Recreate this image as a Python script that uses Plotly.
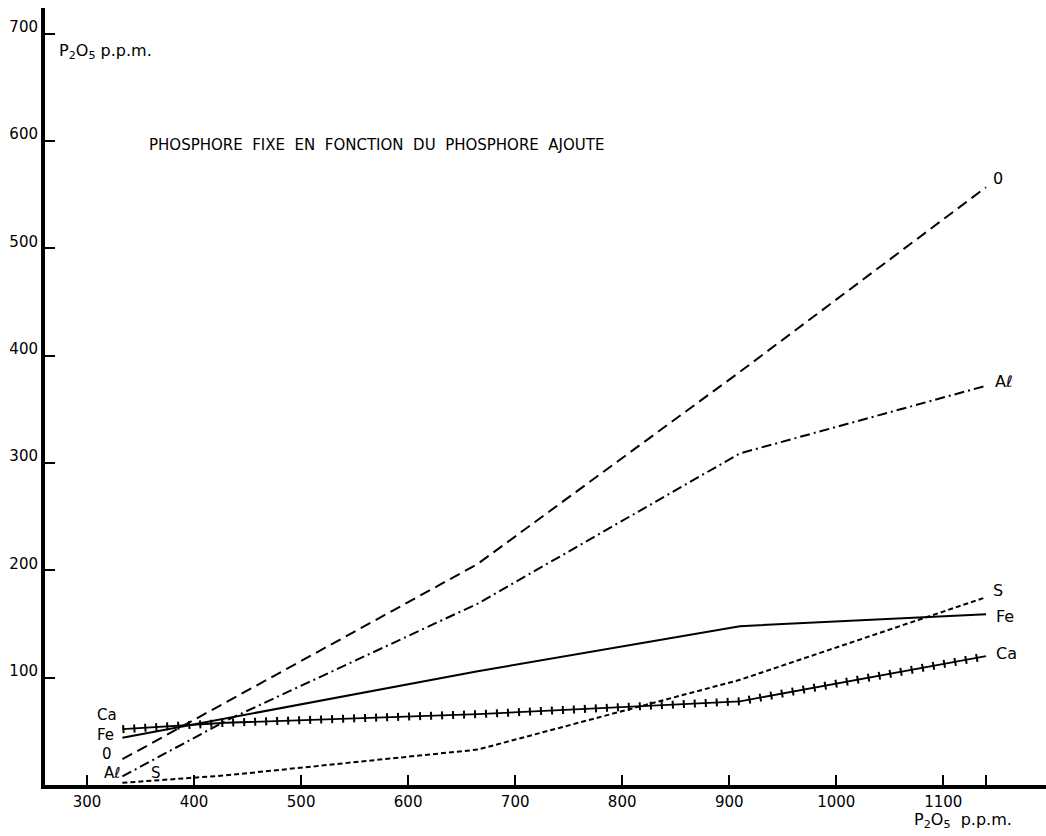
import plotly.graph_objects as go

# Phosphore ajouté (P2O5 p.p.m.)
x_added = [333, 430, 665, 910, 1140]

# Phosphore fixé (P2O5 p.p.m.) per treatment
series_O = [24, 77, 206, 385, 557]
series_Al = [8, 60, 169, 309, 372]
series_Fe = [44, 62, 106, 148, 159]
series_S = [2, 9, 33, 98, 175]
series_Ca = [52, 58, 66, 78, 120]

names = ["0", "Aℓ", "Fe", "S", "Ca"]
values = [series_O, series_Al, series_Fe, series_S, series_Ca]

x_tickvals = [300, 400, 500, 600, 700, 800, 900, 1000, 1100, 1140]
x_ticktext = ["300", "400", "500", "600", "700", "800", "900", "1000", "1100", ""]
y_tickvals = [100, 200, 300, 400, 500, 600, 700]
y_ticktext = ["100", "200", "300", "400", "500", "600", "700"]

title_text = "PHOSPHORE  FIXE  EN  FONCTION  DU  PHOSPHORE  AJOUTE"
axis_unit_top = "P<sub>2</sub>O<sub>5</sub> p.p.m."
axis_unit_bottom = "P<sub>2</sub>O<sub>5</sub>  p.p.m."

FONT = "DejaVu Sans"
INK = "black"

styles = {
    "0": dict(width=2, dash="11px,6px"),
    "Aℓ": dict(width=2, dash="10px,4px,2px,4px"),
    "Fe": dict(width=2, dash="solid"),
    "S": dict(width=2, dash="5px,3px"),
}

fig = go.Figure()
for name, vals in zip(names, values):
    if name == "Ca":
        # horizontal strokes of the crosses
        fig.add_trace(go.Scatter(x=x_added, y=vals, mode="lines",
                                 line=dict(color=INK, width=1.8),
                                 showlegend=False, hoverinfo="skip"))
        # vertical strokes of the crosses
        fig.add_trace(go.Scatter(x=x_added, y=vals, mode="lines", name=name,
                                 line=dict(color=INK, width=8, dash="2px,9px"),
                                 showlegend=False))
    else:
        fig.add_trace(go.Scatter(x=x_added, y=vals, mode="lines", name=name,
                                 line=dict(color=INK, **styles[name]),
                                 showlegend=False))

# end labels (right) and start labels (left)
right_off = {"0": (5, 9), "Aℓ": (7, 4), "Fe": (8, -2), "S": (5, 7), "Ca": (8, 3)}
left_off = {"Ca": ("right", -4, 14), "Fe": ("right", -7, 3), "0": ("right", -9, 5),
            "Aℓ": ("right", -1, 3), "S": ("left", 28, 10)}
for name, vals in zip(names, values):
    dx, dy = right_off[name]
    fig.add_annotation(x=x_added[-1], y=vals[-1], text=name, showarrow=False,
                       xanchor="left", yanchor="middle", xshift=dx, yshift=dy,
                       font=dict(family=FONT, size=16, color=INK))
    anc, dx, dy = left_off[name]
    fig.add_annotation(x=x_added[0], y=vals[0], text=name, showarrow=False,
                       xanchor=anc, yanchor="middle", xshift=dx, yshift=dy,
                       borderpad=0,
                       font=dict(family=FONT, size=15, color=INK))

fig.add_annotation(xref="paper", yref="paper", x=0.102, y=0.824,
                   text=title_text.replace(" ", "\u00a0"),
                   showarrow=False, xanchor="left", yanchor="middle",
                   font=dict(family=FONT, size=15, color=INK))
fig.add_annotation(xref="paper", yref="paper", x=0.012, y=0.944,
                   text=axis_unit_top.replace(" ", "\u00a0"),
                   showarrow=False, xanchor="left", yanchor="middle",
                   font=dict(family=FONT, size=16, color=INK))
fig.add_annotation(xref="paper", yref="paper", x=0.866, y=-0.046,
                   text=axis_unit_bottom.replace(" ", "\u00a0"),
                   showarrow=False, xanchor="left", yanchor="middle",
                   font=dict(family=FONT, size=16, color=INK))

fig.update_layout(
    width=1046, height=836,
    margin=dict(l=45, r=0, t=8, b=51),
    paper_bgcolor="white", plot_bgcolor="white",
    font=dict(family=FONT, size=15, color=INK),
    xaxis=dict(range=[260.7, 1196], showgrid=False, zeroline=False,
               showline=True, linewidth=4, linecolor=INK,
               tickmode="array", tickvals=x_tickvals, ticktext=x_ticktext,
               ticks="inside", ticklen=10, tickwidth=2, tickcolor=INK,
               tickfont=dict(family=FONT, size=15, color=INK)),
    yaxis=dict(range=[0, 724], showgrid=False, zeroline=False,
               showline=True, linewidth=4, linecolor=INK,
               tickmode="array", tickvals=y_tickvals, ticktext=y_ticktext,
               ticks="inside", ticklen=10, tickwidth=2, tickcolor=INK,
               ticklabelshift=-7,
               tickfont=dict(family=FONT, size=15, color=INK)),
)

fig.write_html("out.html")
